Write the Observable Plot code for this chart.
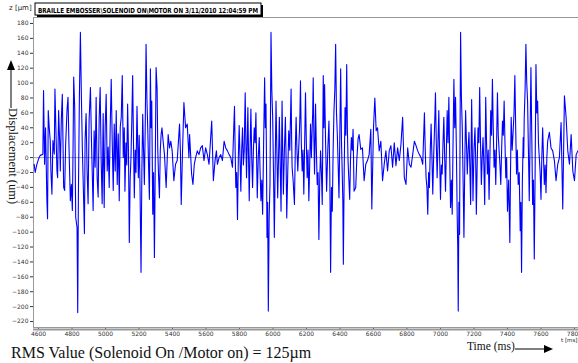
<!DOCTYPE html>
<html><head><meta charset="utf-8">
<script src="https://cdn.jsdelivr.net/npm/d3@7"></script>
<script src="https://cdn.jsdelivr.net/npm/@observablehq/plot@0.6"></script>
<style>
html,body{margin:0;padding:0;background:#fff;overflow:hidden;}
#wrap{position:relative;width:578px;height:363px;}
#chart{position:absolute;left:0;top:0;}
.abs{position:absolute;white-space:nowrap;}
</style></head><body>
<div id="wrap">
<div id="chart"></div>
<div class="abs" style="left:9px;top:4px;font:7px 'DejaVu Sans',sans-serif;color:#222;">z [µm]</div>
<div class="abs" style="left:561px;top:337px;font:5.5px 'DejaVu Sans',sans-serif;color:#222;">t [ms]</div>
<div class="abs" style="left:11px;top:344px;font:16px 'Liberation Serif',serif;color:#111;">RMS Value (Solenoid On /Motor on) = 125µm</div>
<div class="abs" style="left:467px;top:340px;font:11.5px 'Liberation Serif',serif;color:#111;">Time (ms)</div>
<div class="abs" style="left:6px;top:108px;font:12.5px 'Liberation Serif',serif;color:#111;transform-origin:0 0;transform:translate(14px,0) rotate(90deg);">Displacement  (um)</div>
<svg class="abs" style="left:0;top:0" width="578" height="363">
  <rect x="37" y="5" width="226" height="12" fill="#000"/>
  <rect x="35" y="3" width="226" height="12" fill="#fff" stroke="#000" stroke-width="1"/>
  <text x="38" y="12.5" textLength="220" lengthAdjust="spacingAndGlyphs" font-family="'DejaVu Sans',sans-serif" font-weight="bold" font-size="7">BRAILLE EMBOSSER\SOLENOID ON\MOTOR ON 3/11/2010 12:04:59 PM</text>
  <line x1="11" y1="108" x2="11" y2="68" stroke="#000" stroke-width="1"/>
  <polygon points="11,60 7,70 15,70" fill="#000"/>
  <line x1="515" y1="349" x2="545" y2="349" stroke="#000" stroke-width="1"/>
  <polygon points="553,349 544,345 544,353" fill="#000"/>
</svg>
</div>
<script>
// [time (ms), displacement (µm)]
const burstA = [[4574,-9],[4580,-20],[4590,-9],[4600,-2],[4610,3],[4622,4],[4626,5],[4630,90],[4636,-9],[4642,40],[4650,-58],[4654,-82],[4658,63],[4664,40],[4670,23],[4674,-18],[4680,-49],[4686,23],[4694,5],[4698,92],[4704,36],[4710,-18],[4714,-27],[4720,63],[4726,23],[4730,-18],[4736,50],[4742,85],[4746,23],[4750,-40],[4756,-44],[4762,18],[4770,63],[4776,81],[4782,14],[4790,-58],[4796,-36],[4802,-71],[4806,9],[4810,108],[4816,67],[4822,-80],[4830,-94],[4834,-208],[4838,-53],[4844,81],[4850,168],[4856,81],[4862,9],[4870,-62],[4874,-102],[4878,23],[4884,59],[4890,-18],[4896,-62],[4902,50],[4910,94],[4916,23],[4922,-31],[4926,-71],[4932,36],[4938,-13],[4944,81],[4950,-27],[4956,-53],[4962,50],[4968,94],[4974,-4],[4980,-62],[4986,59],[4992,-67],[4998,41],[5004,85],[5010,-18],[5016,14],[5022,-40],[5028,41],[5034,105],[5040,23],[5046,-44],[5052,45],[5058,-18],[5064,63],[5070,-36],[5076,32],[5082,-58],[5088,41],[5094,54],[5100,110],[5106,0],[5112,40],[5116,-45],[5122,20],[5127,-10],[5132,72],[5137,10],[5142,-114],[5147,-30],[5152,0],[5157,50],[5162,110],[5167,20],[5172,-54],[5177,10],[5182,-20],[5188,69],[5192,20],[5196,-27],[5201,30],[5206,-40],[5212,-154],[5217,-20],[5222,58],[5227,10],[5232,-36],[5237,40],[5242,152],[5247,80],[5252,40],[5257,-10],[5262,-56],[5268,119],[5272,40],[5276,76],[5279,0],[5282,-76],[5287,-20],[5292,-134],[5297,-10],[5302,121],[5308,92],[5312,10],[5316,-20],[5322,-54],[5327,10],[5332,31],[5337,40],[5342,27],[5347,15],[5352,4]];
const quietA = [[5362,-40],[5374,31],[5382,13],[5390,22],[5398,9],[5408,-31],[5418,-9],[5428,-4],[5442,45],[5447,10],[5452,-63],[5460,10],[5468,74],[5478,40],[5488,45],[5498,0],[5502,31],[5514,-22],[5522,-36],[5530,-9],[5538,0],[5548,9],[5558,4],[5568,13],[5578,16],[5588,-4],[5598,13],[5608,4],[5618,-9],[5634,49],[5644,-31],[5654,-4],[5662,9],[5668,-9],[5678,0],[5688,4],[5698,-4],[5708,22],[5718,13],[5728,9],[5738,4],[5748,0],[5758,-13]];
const burstB = [[5770,69],[5774,10],[5778,-40],[5783,-20],[5788,-83],[5793,0],[5798,43],[5803,0],[5808,-45],[5813,10],[5818,40],[5823,-10],[5828,9],[5831,50],[5834,87],[5838,20],[5842,-27],[5846,20],[5850,67],[5854,0],[5858,-58],[5863,10],[5868,65],[5873,0],[5878,-40],[5883,10],[5888,40],[5893,20],[5898,60],[5902,0],[5906,-54],[5912,0],[5918,27],[5923,-20],[5928,-58],[5933,-30],[5938,-76],[5944,20],[5950,107],[5954,40],[5958,72],[5961,0],[5964,-107],[5968,-60],[5972,-206],[5977,-80],[5982,-36],[5985,60],[5988,168],[5993,90],[5998,54],[6003,-20],[6008,-107],[6013,-10],[6018,76],[6023,10],[6028,-54],[6033,0],[6038,54],[6043,-10],[6048,-72],[6051,0],[6054,76],[6058,10],[6062,-49],[6068,10],[6074,54],[6078,0],[6082,-81],[6088,-20],[6094,36],[6100,10],[6104,50],[6108,92],[6111,30],[6114,-13],[6120,-30],[6128,-63],[6133,10],[6138,54],[6143,10],[6148,-18],[6153,10],[6158,36],[6161,60],[6164,103],[6169,20],[6174,-18],[6179,10],[6184,-49],[6189,20],[6194,87],[6199,20],[6204,-27],[6209,10],[6214,-58],[6219,-10],[6224,45],[6229,0],[6234,40],[6237,60],[6240,107],[6244,30],[6248,-22],[6251,20],[6254,72],[6259,10],[6264,-36],[6269,-20],[6274,-110],[6279,-30],[6284,9],[6289,-20],[6294,-63],[6297,20],[6300,110],[6304,40],[6308,98],[6314,20],[6320,-45],[6327,10],[6334,49],[6339,-20],[6344,-154],[6349,-40],[6354,-72],[6359,10],[6364,63],[6369,90],[6374,152],[6379,60],[6384,31],[6389,-10],[6394,-54],[6399,30],[6404,119],[6409,20],[6414,-27],[6417,-60],[6420,-143],[6425,-20],[6430,67],[6435,30],[6440,125],[6444,40],[6448,-4],[6453,-30],[6458,-56],[6463,0],[6468,27],[6473,10],[6478,38],[6484,-45]];
const quietB = [[6494,-40],[6500,-4],[6508,25],[6514,31],[6524,11],[6534,13],[6544,-31],[6554,-9],[6564,-4],[6574,4],[6584,38],[6590,-69],[6600,40],[6608,80],[6616,36],[6624,40],[6634,9],[6644,22],[6654,-31],[6664,-9],[6674,9],[6684,-18],[6694,9],[6704,16],[6714,-13],[6724,20],[6734,-11],[6744,13],[6754,-4],[6764,18],[6774,54],[6784,-27],[6794,-36],[6804,13],[6814,-9],[6824,-13],[6834,4],[6844,22],[6854,16],[6864,9],[6874,4],[6884,0],[6894,-9]];
const burstC = [[6904,60],[6909,10],[6914,-27],[6919,-40],[6924,-76],[6929,-20],[6934,-40],[6939,10],[6944,45],[6949,0],[6954,-49],[6959,0],[6964,36],[6967,60],[6970,87],[6975,20],[6980,-27],[6985,20],[6990,63],[6995,0],[7000,-56],[7005,-10],[7010,-22],[7015,20],[7020,54],[7025,0],[7030,-45],[7035,10],[7040,63],[7045,20],[7050,81],[7055,0],[7060,-67],[7065,-30],[7070,-76],[7075,20],[7080,105],[7085,40],[7090,81],[7095,10],[7100,-81],[7103,-120],[7106,-206],[7110,-60],[7114,-103],[7117,40],[7120,168],[7125,80],[7130,40],[7135,-30],[7140,-107],[7145,-10],[7150,63],[7155,20],[7160,-22],[7165,10],[7170,34],[7175,-10],[7180,-63],[7183,10],[7186,78],[7190,10],[7194,-58],[7200,10],[7206,40],[7210,0],[7214,-76],[7219,-10],[7224,40],[7229,20],[7234,94],[7239,20],[7244,-36],[7249,0],[7254,27],[7259,-10],[7264,-63],[7267,10],[7270,81],[7275,20],[7280,-22],[7285,10],[7290,-56],[7295,0],[7300,63],[7305,30],[7310,105],[7315,40],[7320,-13],[7325,10],[7330,-36],[7335,20],[7340,87],[7345,30],[7350,9],[7355,-10],[7360,-36],[7365,10],[7370,49],[7375,30],[7380,76],[7385,20],[7390,-27],[7395,0],[7400,-72],[7407,-30],[7414,-114],[7418,-20],[7422,54],[7428,10],[7434,36],[7439,60],[7444,110],[7449,40],[7454,-22],[7459,10],[7464,-36],[7470,-20],[7476,-98],[7480,-60],[7484,-154],[7489,-30],[7494,27],[7497,0],[7500,54],[7505,90],[7510,152],[7515,100],[7520,76],[7525,10],[7530,-58],[7535,30],[7540,121],[7545,30],[7550,-63],[7555,-30],[7560,-136],[7565,-20],[7570,125],[7575,60],[7580,76],[7585,20],[7590,0],[7595,-20],[7600,-56],[7605,0],[7610,40],[7615,0],[7620,-36],[7625,-10],[7630,-47],[7635,0],[7640,22]];
const tailC = [[7650,34],[7660,13],[7670,9],[7680,-4],[7690,-31],[7700,-9],[7710,0],[7720,47],[7730,-69],[7740,83],[7750,54],[7760,9],[7770,-9],[7780,31],[7790,-18],[7800,-31],[7810,4],[7820,9]];
const xTicks = d3.range(4600, 7801, 200);
const yTicks = d3.range(-220, 181, 20);
const data = [...burstA, ...quietA, ...burstB, ...quietB, ...burstC, ...tailC].map(([t, v]) => ({t, v}));
const chart = Plot.plot({
  width: 578, height: 342,
  marginLeft: 33, marginRight: 0, marginTop: 17, marginBottom: 15,
  style: {background: "transparent", fontFamily: "'DejaVu Sans', sans-serif", fontSize: "6px", color: "#333"},
  x: {domain: [4570, 7824], ticks: xTicks, tickFormat: d3.format("d"), tickSize: 3, tickPadding: 1, label: null},
  y: {domain: [-228, 188], ticks: yTicks, tickFormat: d3.format("d"), tickSize: 3, tickPadding: 2, label: null},
  marks: [
    Plot.frame({stroke: "#999"}),
    Plot.ruleY([0], {stroke: "#888", strokeWidth: 0.8}),
    Plot.line(data, {x: "t", y: "v", stroke: "#0000ff", strokeWidth: 1.1}),
    Plot.ruleY([-228], {stroke: "#999", strokeWidth: 2, dy: 2})
  ]
});
document.getElementById("chart").appendChild(chart);
</script>
</body></html>
